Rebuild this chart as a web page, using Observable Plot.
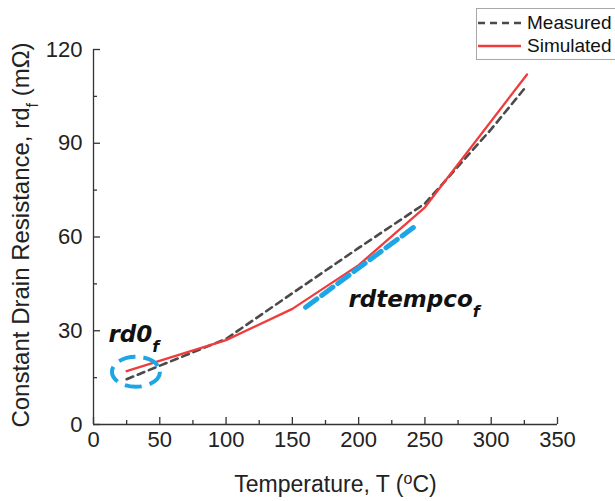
<!DOCTYPE html>
<html><head><meta charset="utf-8">
<script src="https://cdn.jsdelivr.net/npm/d3@7"></script>
<script src="https://cdn.jsdelivr.net/npm/@observablehq/plot@0.6"></script>
<style>
html,body{margin:0;padding:0;background:#fff;overflow:hidden;width:615px;height:501px}
#wrap{position:relative;width:615px;height:501px}
#legend{position:absolute;left:476px;top:8px;width:160px;height:52px;border:1px solid #a8a8a8;background:#fff;
 font-family:"Liberation Sans",Arial,sans-serif;font-size:19px;color:#111;box-sizing:border-box}
#legend .row{position:absolute;left:0;height:22px;display:flex;align-items:center}
#legend .row span{margin-left:6px}
</style></head><body><div id="wrap"></div>
<script>
// ---- data ----
const measuredT = [25, 100, 150, 200, 250, 300, 327];
const measuredR = [14.5, 27.4, 42, 56.5, 70.7, 94.5, 108.5];
const simulatedT = [25, 100, 150, 200, 250, 327];
const simulatedR = [17.1, 27, 37, 51, 69.5, 112];
const seriesNames = ["Measured", "Simulated"];
const seriesColors = ["#4a4a4a", "#f03c3c"];
const xTicks = [0, 50, 100, 150, 200, 250, 300, 350];
const xMinor = [25, 75, 125, 175, 225, 275, 325];
const yTicks = [0, 30, 60, 90, 120];
const yMinor = [15, 45, 75, 105];
const xTitle = "Temperature, T (^oC)";
const yTitle = "Constant Drain Resistance, rd_f (mΩ)";
const tempcoT = [160, 241.5];
const tempcoR = [37.5, 63.1];
const rd0T = [32.4];
const rd0R = [16.7];
const annoText = ["rd0_f", "rdtempco_f"];
const annoT = [11.3, 192.3];
const annoR = [28.7, 40.1];

const measured = measuredT.map((t, i) => ({T: t, R: measuredR[i]}));
const simulated = simulatedT.map((t, i) => ({T: t, R: simulatedR[i]}));
const tempco = tempcoT.map((t, i) => ({T: t, R: tempcoR[i]}));
const annos = annoText.map((s, i) => ({s, T: annoT[i], R: annoR[i]}));
const axisColor = "#333";

function ellipseMark(index, scales) {
  const g = d3.create("svg:g");
  rd0T.forEach((t, i) => {
    g.append("ellipse")
      .attr("cx", scales.x(t)).attr("cy", scales.y(rd0R[i]))
      .attr("rx", 24).attr("ry", 15)
      .attr("fill", "none").attr("stroke", "#1ea5e6")
      .attr("stroke-width", 4).attr("stroke-dasharray", "17,8");
  });
  return g.node();
}

const plot = Plot.plot({
  width: 615, height: 501,
  marginLeft: 93, marginRight: 58, marginTop: 49, marginBottom: 77,
  style: {fontFamily: "'Liberation Sans', Arial, sans-serif", fontSize: "22px", color: "#222", background: "white", overflow: "visible"},
  x: {domain: [0, 350]},
  y: {domain: [0, 120]},
  marks: [
    Plot.axisX({ticks: xTicks, tickSize: 0, tickPadding: 7, label: null, fontSize: 22, fill: "#222"}),
    Plot.axisY({ticks: yTicks, tickSize: 0, tickPadding: 11, label: null, fontSize: 22, fill: "#222"}),
    Plot.axisX({ticks: xTicks, tickSize: -7, tickFormat: () => "", label: null, stroke: axisColor, strokeWidth: 1.3}),
    Plot.axisX({ticks: xMinor, tickSize: -4, tickFormat: () => "", label: null, stroke: axisColor, strokeWidth: 1.3}),
    Plot.axisY({ticks: yTicks, tickSize: -7, tickFormat: () => "", label: null, stroke: axisColor, strokeWidth: 1.3}),
    Plot.axisY({ticks: yMinor, tickSize: -4, tickFormat: () => "", label: null, stroke: axisColor, strokeWidth: 1.3}),
    Plot.ruleY([0], {stroke: axisColor, strokeWidth: 1.3}),
    Plot.ruleX([0], {stroke: axisColor, strokeWidth: 1.3}),
    Plot.line(measured, {x: "T", y: "R", stroke: seriesColors[0], strokeWidth: 2.6, strokeDasharray: "7,5"}),
    Plot.line(simulated, {x: "T", y: "R", stroke: seriesColors[1], strokeWidth: 2.3}),
    Plot.line(tempco, {x: "T", y: "R", stroke: "#1ea5e6", strokeWidth: 5, strokeDasharray: "14,6"}),
    ellipseMark,
    Plot.text(annos, {x: "T", y: "R", text: "s", textAnchor: "start", fontFamily: "'DejaVu Sans', sans-serif", fontWeight: "bold", fontStyle: "italic", fontSize: 23, fill: "#111"}),
    Plot.text([xTitle], {frameAnchor: "bottom", textAnchor: "middle", dx: 10, dy: 67, text: d => d, fontSize: 23, fill: "#222"}),
    Plot.text([yTitle], {frameAnchor: "left", textAnchor: "middle", dx: -72, dy: -2, rotate: -90, text: d => d, fontSize: 24, fill: "#222"})
  ]
});

// rich text: ^x superscript, _x subscript
d3.select(plot).selectAll("text").each(function() {
  const t = this.textContent;
  if (!/[\^_]/.test(t)) return;
  const fs = parseFloat(this.getAttribute("font-size") || this.parentNode.getAttribute("font-size") || 22);
  const sub = Math.round(fs * 0.68);
  const html = t.replace(/\^(\w)/g, `<tspan baseline-shift="super" font-size="${sub}">$1</tspan>`)
                .replace(/_(\w)/g, `<tspan baseline-shift="sub" font-size="${sub}">$1</tspan>`);
  this.innerHTML = html;
});

const wrap = document.getElementById("wrap");
wrap.appendChild(plot);

const legend = document.createElement("div");
legend.id = "legend";
seriesNames.forEach((name, i) => {
  const row = document.createElement("div");
  row.className = "row";
  row.style.top = (3 + i * 23) + "px";
  row.innerHTML = `<svg width="44" height="10"><line x1="1" x2="44" y1="5" y2="5" stroke="${seriesColors[i]}" stroke-width="${i ? 2.3 : 2.6}" ${i ? "" : 'stroke-dasharray="7,5"'}/></svg><span>${name}</span>`;
  legend.appendChild(row);
});
wrap.appendChild(legend);
</script></body></html>
